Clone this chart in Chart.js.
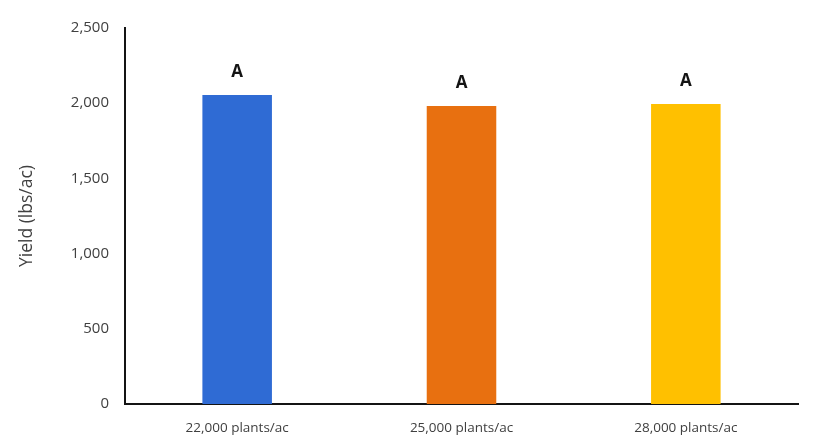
<!DOCTYPE html>
<html>
<head>
<meta charset="utf-8">
<script src="https://cdn.jsdelivr.net/npm/chart.js@4"></script>
<style>
  html, body { margin: 0; padding: 0; background: #fff; }
  #wrap { width: 817px; height: 443px; }
</style>
</head>
<body>
<div id="wrap"><canvas id="myChart"></canvas></div>
<script>
const categories = ['22,000 plants/ac', '25,000 plants/ac', '28,000 plants/ac'];
const yieldValues = [2054, 1981, 1995];
const letters = ['A', 'A', 'A'];
const barColors = ['rgb(47, 107, 212)', 'rgb(232, 112, 16)', 'rgb(255, 192, 0)'];
const yTicks = [0, 500, 1000, 1500, 2000, 2500];

const textColor = 'rgb(64, 64, 64)';
const fontFamily = "'Open Sans', 'Liberation Sans', sans-serif";

// letters above each bar
const letterLabels = {
    id: 'letterLabels',
    afterDatasetsDraw(chart) {
        const { ctx } = chart;
        const meta = chart.getDatasetMeta(0);
        ctx.save();
        ctx.font = "bold 17px " + fontFamily;
        ctx.fillStyle = 'rgb(20, 20, 20)';
        ctx.textAlign = 'center';
        ctx.textBaseline = 'middle';
        meta.data.forEach((bar, i) => {
            ctx.fillText(letters[i], bar.x, bar.y - 23);
        });
        ctx.restore();
    }
};

const data = {
    labels: categories,
    datasets: [{
        data: yieldValues,
        backgroundColor: barColors,
        borderWidth: 0,
        barPercentage: 0.31,
        categoryPercentage: 1,
    }]
};

const options = {
    responsive: true,
    maintainAspectRatio: false,
    animation: false,
    layout: {
        padding: { top: 28, right: 19, left: 0, bottom: 0 }
    },
    plugins: {
        legend: { display: false },
        tooltip: { enabled: false },
    },
    scales: {
        x: {
            grid: { display: false, drawTicks: false },
            border: { display: true, color: 'rgb(20, 20, 20)', width: 2 },
            ticks: {
                color: textColor,
                padding: 16,
                font: { family: fontFamily, size: 13.5 },
            },
            afterFit(scale) { scale.height = 39; },
        },
        y: {
            min: 0,
            max: 2500,
            afterBuildTicks(scale) {
                scale.ticks = yTicks.map(v => ({ value: v }));
            },
            grid: { display: false, drawTicks: false },
            border: { display: true, color: 'rgb(20, 20, 20)', width: 2 },
            ticks: {
                color: textColor,
                padding: 16,
                font: { family: fontFamily, size: 15 },
                callback: (v) => Number(v).toLocaleString('en-US'),
            },
            title: {
                display: true,
                text: 'Yield (lbs/ac)',
                color: textColor,
                font: { family: fontFamily, size: 17.5 },
                padding: { top: 17, bottom: 0 },
            },
            afterFit(scale) { scale.width = 125; },
        }
    }
};

new Chart(document.getElementById('myChart'), {
    type: 'bar',
    data: data,
    options: options,
    plugins: [letterLabels],
});
</script>
</body>
</html>
